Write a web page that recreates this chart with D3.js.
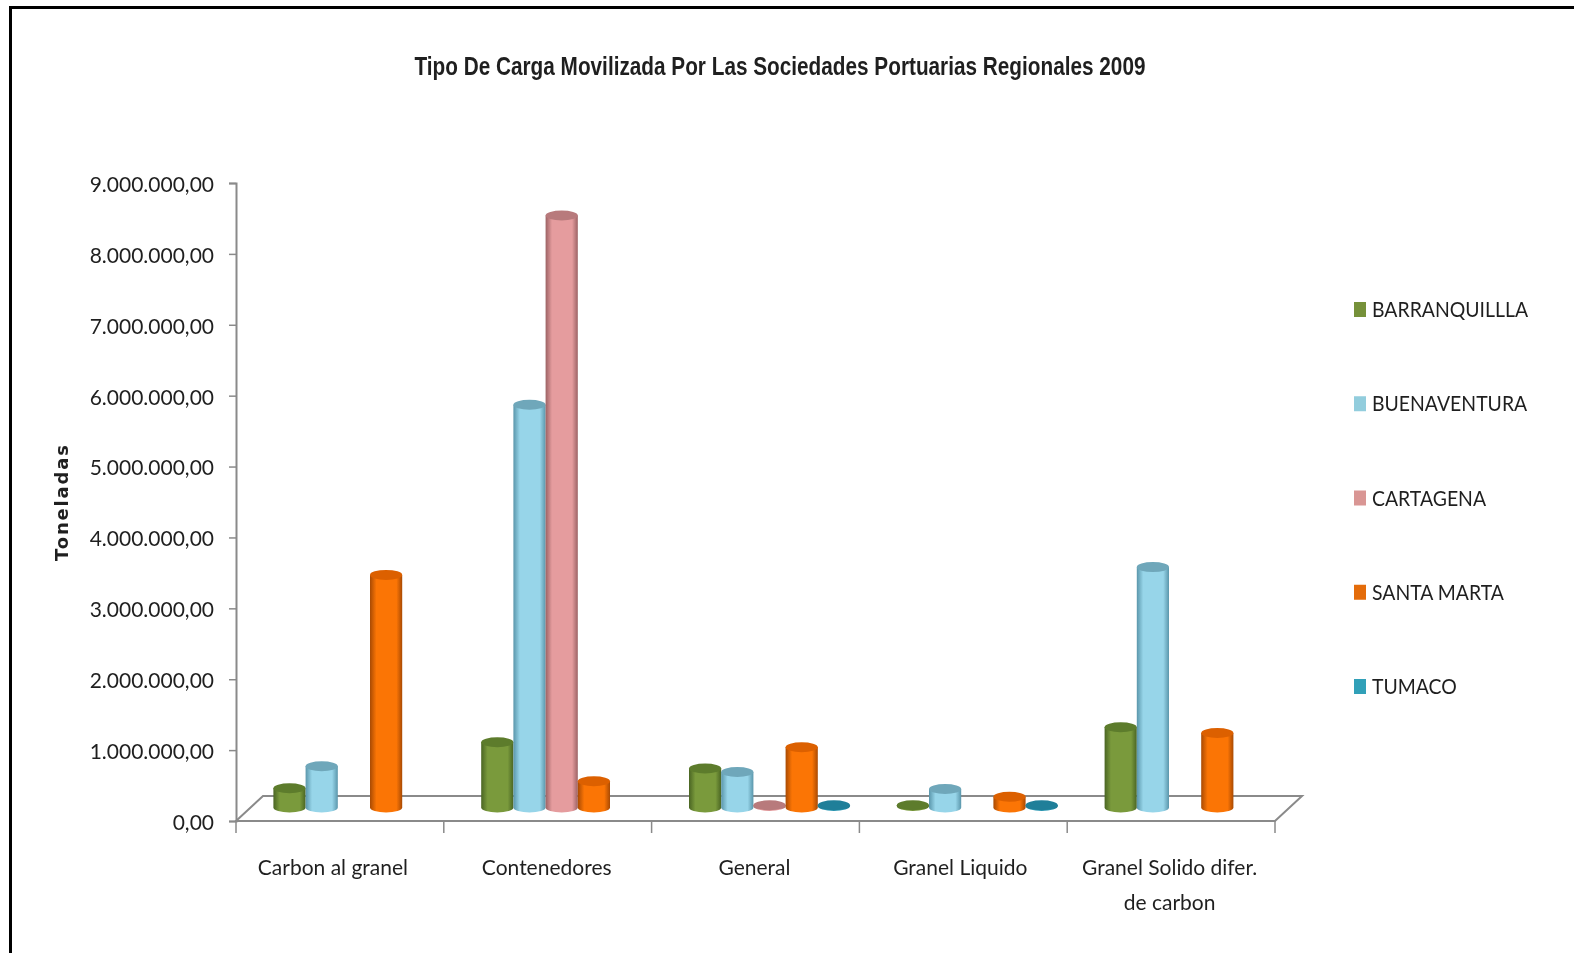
<!DOCTYPE html>
<html><head><meta charset="utf-8">
<script src="https://cdn.jsdelivr.net/npm/d3@7"></script>
<style>
html,body{margin:0;padding:0;background:#fff;overflow:hidden}
svg{display:block;filter:blur(0.45px)}
text{fill:#1f1f1f}
</style></head><body><svg id="c" width="1574" height="953"></svg>
<script>
const categories=["Carbon al granel","Contenedores","General","Granel Liquido","Granel Solido difer.|de carbon"];
const seriesNames=["BARRANQUILLLA","BUENAVENTURA","CARTAGENA","SANTA MARTA","TUMACO"];
const barranquilla=[250000,900000,530000,10000,1110000];
const buenaventura=[560000,5660000,480000,240000,3370000];
const cartagena=[null,8330000,10000,null,null];
const santaMarta=[3260000,350000,830000,130000,1030000];
const tumaco=[null,null,10000,10000,null];
const seriesValues=[barranquilla,buenaventura,cartagena,santaMarta,tumaco];
const mid=["#7a9a3c","#97d5e9","#e59c9e","#fb7505","#2f9ab5"];
const dark=["#4a6523","#5a96ab","#9c6264","#a94a03","#1c7188"];
const topc=["#5d7c2c","#6fa7ba","#b87a7c","#dc6000","#1f7f99"];
const legendc=["#76913a","#92cddd","#d99694","#e46c0a","#31a0b8"];
const yTicks=[0,1,2,3,4,5,6,7,8,9].map(d=>d*1e6);
const xLabelNudge=[-7,-1,-1,-3,-1.5];
const fmt=d=>d3.format(",.2f")(d).replace(/,/g,"#").replace(".",",").replace(/#/g,".");

const svg=d3.select("#c");
const y=d3.scaleLinear().domain([0,9e6]).range([821,183]);
const x=d3.scaleBand().domain(categories).range([236,1275]);
const depth={dx:27,dy:25};
const inner=d3.scaleBand().domain(seriesNames).range([23.4+depth.dx/2+0.5,23.4+depth.dx/2+0.5+161]);

svg.append("rect").attr("x",10.5).attr("y",7.5).attr("width",1590).attr("height",960)
  .attr("fill","#fff").attr("stroke","#000").attr("stroke-width",3);

const defs=svg.append("defs");
seriesNames.forEach((s,i)=>{
  const g=defs.append("linearGradient").attr("id","g"+i).attr("x1",0).attr("x2",1).attr("y1",0).attr("y2",0);
  [[0,dark[i]],[.2,mid[i]],[.6,mid[i]],[.82,mid[i]],[1,dark[i]]].forEach(([o,c])=>g.append("stop").attr("offset",o).attr("stop-color",c));
});

const L=x.range()[0],R=x.range()[1],Y0=y(0);
svg.append("path").attr("d",`M${L},${Y0}L${L+depth.dx},${Y0-depth.dy}L${R+depth.dx},${Y0-depth.dy}L${R},${Y0}Z`)
  .attr("fill","#fff").attr("stroke","#8a8a8a").attr("stroke-width",2);

const axY=svg.append("g").attr("transform",`translate(${L},0)`)
  .call(d3.axisLeft(y).tickValues(yTicks).tickFormat(fmt).tickSize(7).tickPadding(15));
axY.select(".domain").attr("stroke","#8a8a8a").attr("stroke-width",2);
axY.selectAll(".tick line").attr("stroke","#8a8a8a").attr("stroke-width",1.5);
axY.selectAll("text").attr("font-family","Lato").attr("font-size",21).attr("fill","#222").attr("dy","0.4em");

const edges=categories.map(c=>x(c)).concat([R]);
svg.append("g").selectAll("line").data(edges).join("line")
  .attr("x1",d=>d).attr("x2",d=>d).attr("y1",Y0).attr("y2",Y0+12)
  .attr("stroke","#8a8a8a").attr("stroke-width",1.5);

const xl=svg.append("g").selectAll("text").data(categories).join("text")
  .attr("text-anchor","middle").attr("font-family","Lato").attr("font-size",21).attr("fill","#222")
  .attr("transform",(c,i)=>`translate(${x(c)+x.bandwidth()/2+xLabelNudge[i]},0)`);
xl.each(function(c){
  c.split("|").forEach((t,i)=>d3.select(this).append("tspan").attr("x",0).attr("y",875+i*35).text(t));
});

const w=inner.bandwidth(), ry=5, lift=15;
const bars=[];
categories.forEach((c,ci)=>seriesNames.forEach((s,si)=>{
  const v=seriesValues[si][ci];
  if(v!==null) bars.push({c,s,si,v});
}));
const gb=svg.append("g");
bars.forEach(b=>{
  const cx=x(b.c)+inner(b.s)+w/2, rx=w/2;
  const yt=y(b.v)-lift, yb=y(0)-lift+(b.v>1e5?1.5:0);
  const g=gb.append("g");
  g.append("path")
    .attr("d",`M${cx-rx},${yt}L${cx-rx},${yb}A${rx},${ry} 0 0 0 ${cx+rx},${yb}L${cx+rx},${yt}Z`)
    .attr("fill",`url(#g${b.si})`);
  g.append("ellipse").attr("cx",cx).attr("cy",yt).attr("rx",rx).attr("ry",ry).attr("fill",topc[b.si]);
});

svg.append("text").attr("x",780).attr("y",75).attr("text-anchor","middle")
  .attr("textLength",731).attr("lengthAdjust","spacingAndGlyphs")
  .attr("font-family","Liberation Sans").attr("font-weight",700).attr("font-size",25)
  .attr("fill","#111").text("Tipo De Carga Movilizada Por Las Sociedades Portuarias Regionales 2009");

svg.append("text").attr("transform","translate(68,503) rotate(-90)").attr("text-anchor","middle")
  .attr("textLength",116).attr("lengthAdjust","spacing")
  .attr("font-family","DejaVu Sans").attr("font-weight",700).attr("font-size",18).attr("fill","#111").text("Toneladas");

const ly=d3.scalePoint().domain(seriesNames).range([309,686]);
const lg=svg.append("g").selectAll("g").data(seriesNames).join("g").attr("transform",s=>`translate(1354,${ly(s)})`);
lg.append("rect").attr("x",0).attr("y",-7).attr("width",12).attr("height",15).attr("fill",(s,i)=>legendc[i]);
lg.append("text").attr("transform","translate(18,8) scale(0.925,1.03)").attr("font-family","Lato").attr("font-size",21).attr("fill","#222").text(s=>s);
</script></body></html>
